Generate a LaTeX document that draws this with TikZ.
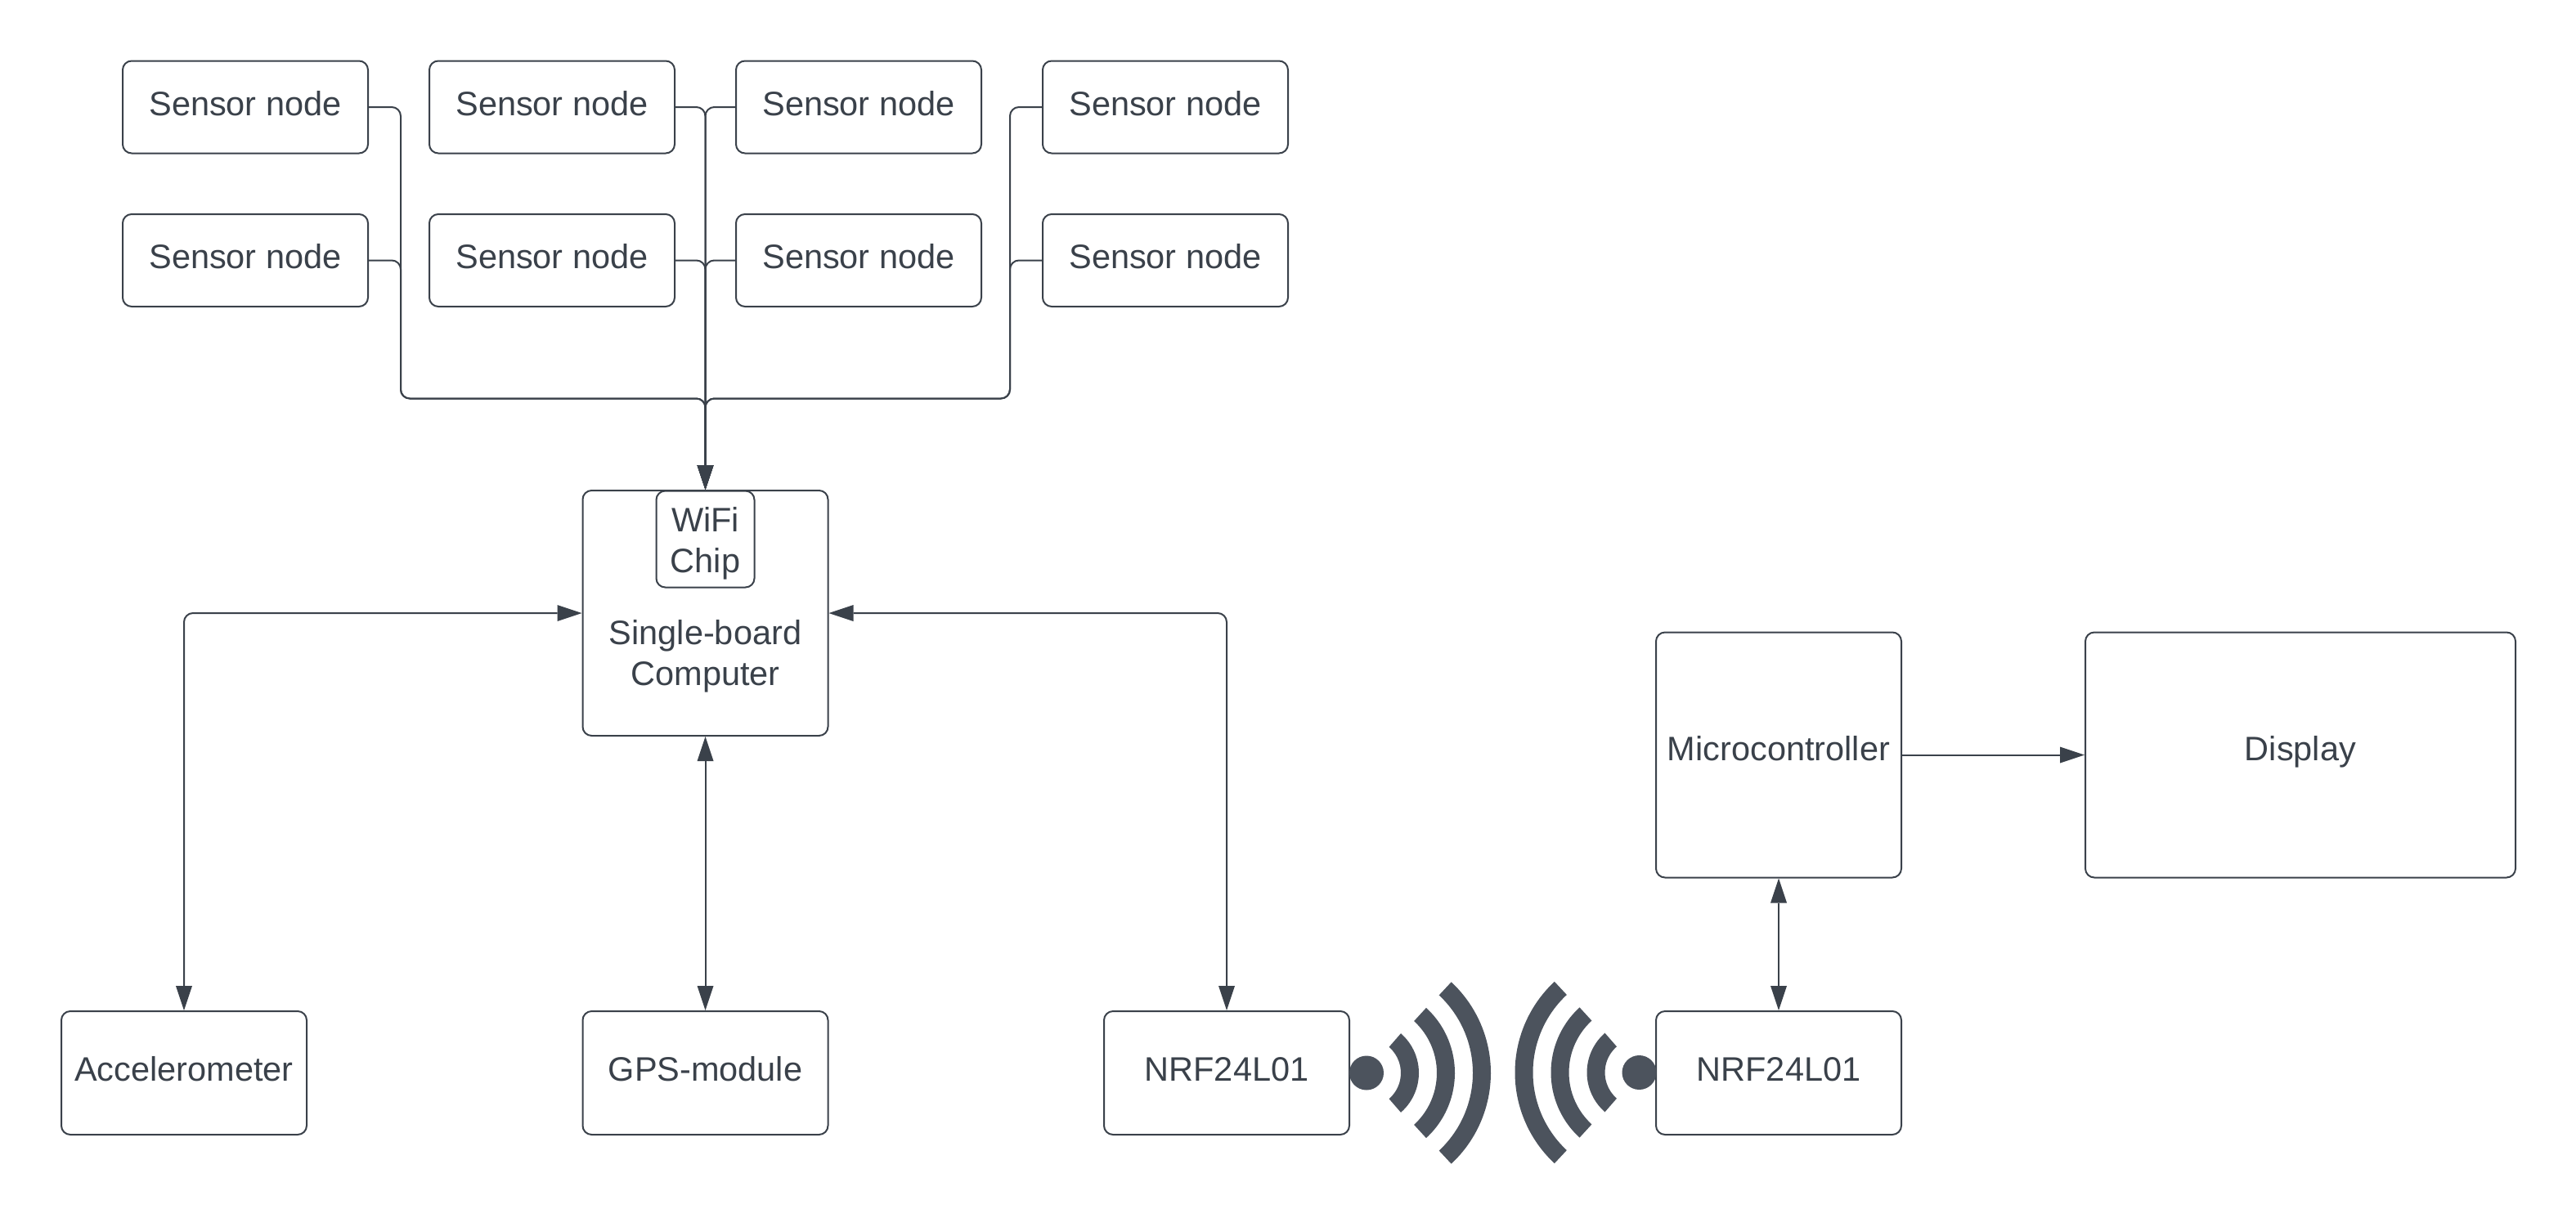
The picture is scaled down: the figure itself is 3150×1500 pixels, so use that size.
\documentclass[tikz,border=0pt]{standalone}
\usepackage{fontspec}
\setmainfont{Liberation Sans}
\usetikzlibrary{arrows.meta}
\definecolor{ink}{HTML}{3A414A}
\definecolor{icon}{HTML}{4C535D}
\tikzset{
  box/.style={draw=ink,line width=1pt,rounded corners=5.5pt,fill=white,text=ink,inner sep=0pt,
    font=\fontsize{20.75}{25}\selectfont,text height=15pt,text depth=5pt,align=center},
  sensor/.style={box,minimum width=150pt,minimum height=56.5pt},
  bottombox/.style={box,minimum width=150pt,minimum height=75.5pt},
  bigbox/.style={box,minimum height=150pt,text depth=8pt},
  lbl/.style={text=ink,inner sep=0pt,font=\fontsize{20.75}{25}\selectfont,align=center},
  conn/.style={draw=ink,line width=1pt,rounded corners=5.5pt},
  tip/.style={-{Triangle[length=15pt,width=10pt,line width=0pt]}},
  twotip/.style={{Triangle[length=15pt,width=10pt,line width=0pt]}-{Triangle[length=15pt,width=10pt,line width=0pt]}},
}
\begin{document}
\begin{tikzpicture}[x=0.5pt,y=-0.5pt]
\useasboundingbox (0,0) rectangle (3150,1500);
% sensor nodes
\node[sensor] (s1) at (300,131) {Sensor node};
\node[sensor] (s2) at (675,131) {Sensor node};
\node[sensor] (s3) at (1050,131) {Sensor node};
\node[sensor] (s4) at (1425,131) {Sensor node};
\node[sensor] (s5) at (300,318.5) {Sensor node};
\node[sensor] (s6) at (675,318.5) {Sensor node};
\node[sensor] (s7) at (1050,318.5) {Sensor node};
\node[sensor] (s8) at (1425,318.5) {Sensor node};
% computer
\node[box,minimum width=150pt,minimum height=150pt] (sbc) at (862.5,750) {};
\node[lbl] (sbctext) at (862.5,803) {Single-board\\Computer};
\node[box,minimum width=60pt,minimum height=59pt] (chip) at (862.5,659.5) {};
\node[lbl] (chiptext) at (862.5,665) {WiFi\\Chip};
% bottom row
\node[bottombox] (acc) at (225,1312.5) {Accelerometer};
\node[bottombox] (gps) at (862.5,1312.5) {GPS-module};
\node[bottombox] (nrfa) at (1500,1312.5) {NRF24L01};
\node[bottombox] (nrfb) at (2175,1312.5) {NRF24L01};
% right side
\node[bigbox,minimum width=150pt] (mcu) at (2175,923.5) {Microcontroller};
\node[bigbox,minimum width=263pt] (disp) at (2813,923.5) {Display};
% bus guides
\coordinate (busl) at (490,487.5);
\coordinate (busr) at (1235,487.5);
% connectors
\foreach \s in {s1,s5}{
  \draw[conn,tip] (\s.east) -| (busl) -| (sbc.north);
}
\foreach \s in {s4,s8}{
  \draw[conn,tip] (\s.west) -| (busr) -| (sbc.north);
}
\foreach \s in {s2,s6}{
  \draw[conn,tip] (\s.east) -| (sbc.north);
}
\foreach \s in {s3,s7}{
  \draw[conn,tip] (\s.west) -| (sbc.north);
}
\draw[conn,twotip] (acc.north) |- (sbc.west);
\draw[conn,twotip] (nrfa.north) |- (sbc.east);
\draw[conn,twotip] (gps.north) -- (sbc.south);
\draw[conn,twotip] (nrfb.north) -- (mcu.south);
\draw[conn,tip] (mcu.east) -- (disp.west);
% wireless icon
\begin{scope}[shift={(1671,1312.5)}]
  \fill[icon] (0pt,0pt) circle[radius=10.5pt];
  \foreach \ro/\ri/\a in {32/21/49,54/43/47.5,76/65/47}{
    \fill[icon] (-\a:\ro pt) arc[start angle=-\a,end angle=\a,radius=\ro pt]
      -- (\a:\ri pt) arc[start angle=\a,end angle=-\a,radius=\ri pt] -- cycle;
  }
\end{scope}
\begin{scope}[shift={(2004.5,1312)}]
  \fill[icon] (0pt,0pt) circle[radius=10.5pt];
  \foreach \ro/\ri/\a in {32/21/49,54/43/47.5,76/65/47}{
    \fill[icon] (180-\a:\ro pt) arc[start angle=180-\a,end angle=180+\a,radius=\ro pt]
      -- (180+\a:\ri pt) arc[start angle=180+\a,end angle=180-\a,radius=\ri pt] -- cycle;
  }
\end{scope}
\end{tikzpicture}
\end{document}
